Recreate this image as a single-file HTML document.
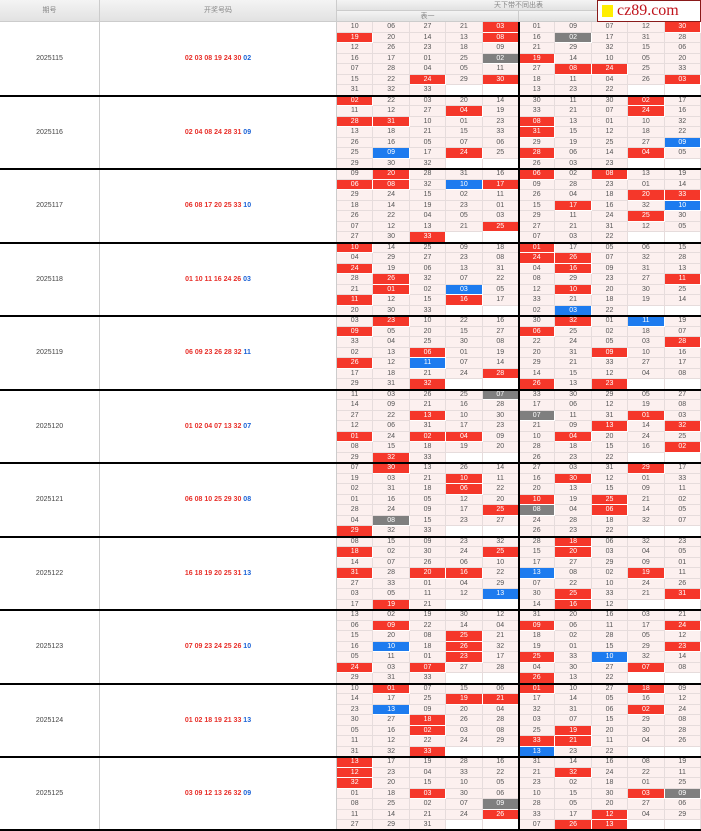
<!DOCTYPE html>
<html><head><meta charset="utf-8">
<style>
body{margin:0;width:701px;height:831px;overflow:hidden;background:#fff;font-family:"Liberation Sans","Noto Sans CJK SC",sans-serif;position:relative}
.a{position:absolute;box-sizing:border-box}
.c{font-size:7px;color:#555;text-align:center;line-height:9.5px;background:#fcf0ef;border-right:1px solid #e6dcdc;border-bottom:1px solid #e6dcdc}
.c.e{background:#fff}
.c.r{background:#f5372a;color:#fff;border-color:#fff}
.c.g{background:#7f7f7f;color:#fff;border-color:#fff}
.c.b{background:#1d7bef;color:#fff;border-color:#fff}
.h{background:linear-gradient(#f4f4f4,#e2e2e2);color:#888;font-size:7px;text-align:center;border-right:1px solid #ccc;border-bottom:1px solid #ccc}
.t{font-size:7px;text-align:center;color:#444}
</style></head><body>
<div class="a h" style="left:0;top:0;width:100px;height:22px;line-height:22px">期号</div>
<div class="a h" style="left:100px;top:0;width:237px;height:22px;line-height:22px">开奖号码</div>
<div class="a h" style="left:337px;top:0;width:364px;height:11px;line-height:11px">天下带不同出表</div>
<div class="a h" style="left:337px;top:11px;width:182px;height:11px;line-height:11px">表一</div>
<div class="a h" style="left:519px;top:11px;width:182px;height:11px;line-height:11px">表二</div>
<div class="a" style="left:597px;top:0;width:104px;height:22px;background:#fff;border:1px solid #8a1a1a;"><div class="a" style="left:4px;top:4px;width:11px;height:12px;background:#ffee00"></div><div class="a" style="left:19px;top:1px;font-family:'Liberation Serif',serif;font-size:16px;color:#c0141c;line-height:18px">cz89.com</div></div>
<div id="g"></div>
<script>
var B=[
["2025115","02 03 08 19 24 30","02","10 06 27 21 03r|01 09 07 12 30r;19r 20 14 13 08r|16 02g 17 31 28;12 26 23 18 09|21 29 32 15 06;16 17 01 25 02g|19r 14 10 05 20;07 28 04 05 11|27 08r 24r 25 33;15 22 24r 29 30r|18 11 04 26 03r;31 32 33 - -|13 23 22 - -"],
["2025116","02 04 08 24 28 31","09","02r 22 03 20 14|30 11 30 02r 17;11 12 27 04r 19|33 21 07 24r 16;28r 31r 10 01 23|08r 13 01 10 32;13 18 21 15 33|31r 15 12 18 22;26 16 05 07 06|29 19 25 27 09b;25 09b 17 24r 25|28r 06 14 04r 05;29 30 32 - -|26 03 23 - -"],
["2025117","06 08 17 20 25 33","10","09 20r 28 31 16|06r 02 08r 13 19;06r 08r 32 10b 17r|09 28 23 01 14;29 24 15 02 11|26 04 18 20r 33r;18 14 19 23 01|15 17r 16 32 10b;26 22 04 05 03|29 11 24 25r 30;07 12 13 21 25r|27 21 31 12 05;27 30 33r - -|07 03 22 - -"],
["2025118","01 10 11 16 24 26","03","10r 14 25 09 18|01r 17 05 06 15;04 29 27 23 08|24r 26r 07 32 28;24r 19 06 13 31|04 16r 09 31 13;28 26r 32 07 22|08 29 23 27 11r;21 01r 02 03b 05|12 10r 20 30 25;11r 12 15 16r 17|33 21 18 19 14;20 30 33 - -|02 03b 22 - -"],
["2025119","06 09 23 26 28 32","11","03 23r 10 22 16|30 32r 01 11b 19;09r 05 20 15 27|06r 25 02 18 07;33 04 25 30 08|22 24 05 03 28r;02 13 06r 01 19|20 31 09r 10 16;26r 12 11b 07 14|29 21 33 27 17;17 18 21 24 28r|14 15 12 04 08;29 31 32r - -|26r 13 23r - -"],
["2025120","01 02 04 07 13 32","07","11 03 26 25 07g|33 30 29 05 27;14 09 21 16 28|17 06 12 19 08;27 22 13r 10 30|07g 11 31 01r 03;12 06 31 17 23|21 09 13r 14 32r;01r 24 02r 04r 09|10 04r 20 24 25;08 15 18 19 20|28 18 15 16 02r;29 32r 33 - -|26 23 22 - -"],
["2025121","06 08 10 25 29 30","08","07 30r 13 26 14|27 03 31 29r 17;19 03 21 10r 11|16 30r 12 01 33;02 31 18 06r 22|20 13 15 09 11;01 16 05 12 20|10r 19 25r 21 02;28 24 09 17 25r|08g 04 06r 14 05;04 08g 15 23 27|24 28 18 32 07;29r 32 33 - -|26 23 22 - -"],
["2025122","16 18 19 20 25 31","13","08 15 09 23 32|28 18r 06 32 23;18r 02 30 24 25r|15 20r 03 04 05;14 07 26 06 10|17 27 29 09 01;31r 28 20r 16r 22|13b 08 02 19r 11;27 33 01 04 29|07 22 10 24 26;03 05 11 12 13b|30 25r 33 21 31r;17 19r 21 - -|14 16r 12 - -"],
["2025123","07 09 23 24 25 26","10","13 02 19 30 12|31 20 16 03 21;06 09r 22 14 04|09r 06 11 17 24r;15 20 08 25r 21|18 02 28 05 12;16 10b 18 26r 32|19 01 15 29 23r;05 11 01 23r 17|25r 33 10b 32 14;24r 03 07r 27 28|04 30 27 07r 08;29 31 33 - -|26r 13 22 - -"],
["2025124","01 02 18 19 21 33","13","10 01r 07 15 06|01r 10 27 18r 09;14 17 25 19r 21r|17 14 05 16 12;23 13b 09 20 04|32 31 06 02r 24;30 27 18r 26 28|03 07 15 29 08;05 16 02r 03 08|25 19r 20 30 28;11 12 22 24 29|33r 21r 11 04 26;31 32 33r - -|13b 23 22 - -"],
["2025125","03 09 12 13 26 32","09","13r 17 19 28 16|31 14 16 08 19;12r 23 04 33 22|21 32r 24 22 11;32r 20 15 10 05|23 02 18 01 25;01 18 03r 30 06|10 15 30 03r 09g;08 25 02 07 09g|28 05 20 27 06;11 14 21 24 26r|33 17 12r 04 29;27 29 31 - -|07 26r 13r - -"]
];
var h="",BH=73.5,RH=10.5,CW=36.4;
B.forEach(function(b,i){
 var y0=22+i*BH;
 h+='<div class="a t" style="left:0;top:'+y0+'px;width:100px;height:'+BH+'px;line-height:'+BH+'px;border-right:1px solid #ccc">'+b[0]+'</div>';
 h+='<div class="a t" style="left:100px;top:'+y0+'px;width:237px;height:'+BH+'px;line-height:'+BH+'px;font-weight:bold;border-right:1px solid #ccc"><span style="color:#e8302a">'+b[1]+'</span> <span style="color:#1a62d6">'+b[2]+'</span></div>';
 b[3].split(";").forEach(function(row,r){
  var cells=row.replace("|"," ").split(" ");
  cells.forEach(function(v,k){
   var cls="c",txt=v;
   if(v=="-"){cls+=" e";txt="";}
   else if(/[rgb]$/.test(v)){cls+=" "+v.slice(-1);txt=v.slice(0,-1);}
   h+='<div class="a '+cls+'" style="left:'+(337+k*CW).toFixed(1)+'px;top:'+(y0+r*RH).toFixed(1)+'px;width:'+CW.toFixed(1)+'px;height:'+RH+'px">'+txt+'</div>';
  });
 });
 if(i>0)h+='<div class="a" style="left:0;top:'+(y0-1)+'px;width:701px;height:2px;background:#000"></div>';
});
h+='<div class="a" style="left:0;top:829px;width:701px;height:2px;background:#000"></div>';
h+='<div class="a" style="left:518px;top:22px;width:2px;height:809px;background:#000"></div>';
document.getElementById("g").innerHTML=h;
</script>
</body></html>
